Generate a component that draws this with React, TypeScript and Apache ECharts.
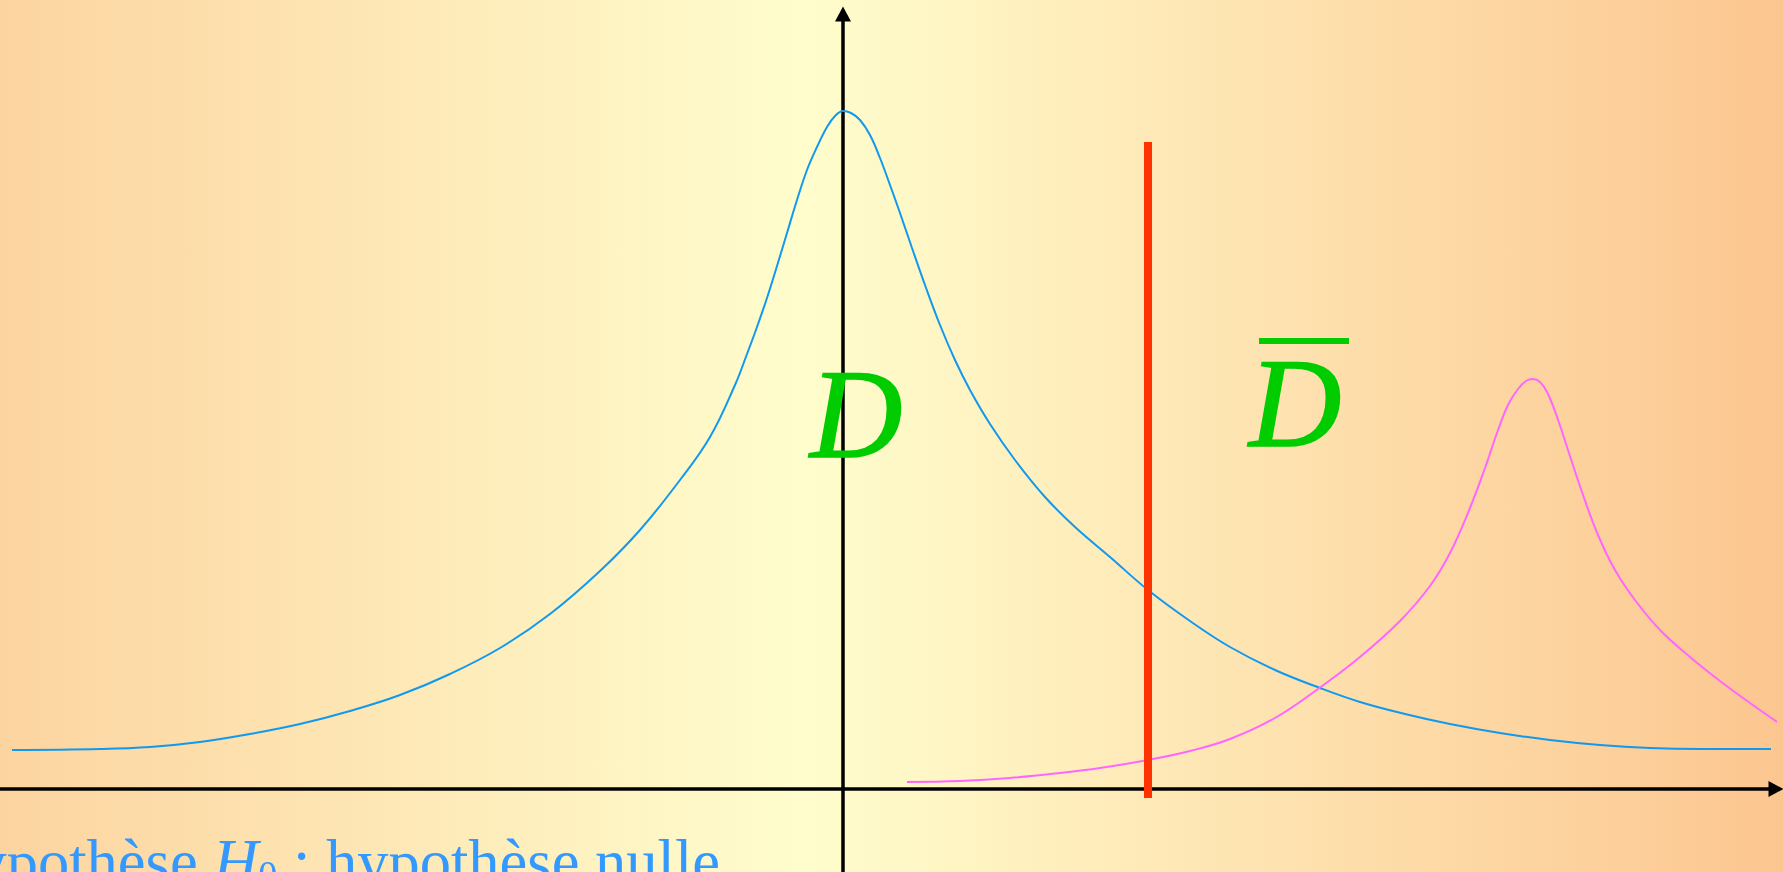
import React, { useEffect, useRef } from "react";
import * as echarts from "echarts";

// x: test statistic (1 unit = 100 px of the slide), y: density (arbitrary units)
const nullX = [-8.31, -7.43, -6.93, -6.43, -5.93, -5.43, -4.93, -4.43, -3.93, -3.43, -2.93, -2.43, -2.03, -1.63, -1.33, -1.08, -0.96, -0.86, -0.76, -0.66, -0.56, -0.46, -0.36, -0.26, -0.16, -0.08, 0, 0.08, 0.17, 0.27, 0.37, 0.47, 0.57, 0.69, 0.82, 0.97, 1.12, 1.27, 1.47, 1.72, 2.02, 2.32, 2.67, 3.05, 3.47, 3.87, 4.32, 4.77, 5.17, 5.62, 6.07, 6.57, 7.07, 7.57, 8.07, 8.57, 9.28];
const nullY = [0.39, 0.40, 0.42, 0.47, 0.55, 0.65, 0.78, 0.94, 1.15, 1.41, 1.75, 2.18, 2.59, 3.09, 3.52, 4.04, 4.35, 4.62, 4.91, 5.23, 5.56, 5.89, 6.19, 6.42, 6.62, 6.73, 6.78, 6.76, 6.69, 6.54, 6.31, 6.04, 5.76, 5.41, 5.04, 4.64, 4.29, 3.99, 3.65, 3.29, 2.92, 2.62, 2.32, 1.99, 1.68, 1.42, 1.19, 1.01, 0.87, 0.75, 0.65, 0.56, 0.49, 0.44, 0.41, 0.40, 0.40];

const altX = [0.64, 1.17, 1.67, 2.17, 2.57, 3.05, 3.47, 3.87, 4.32, 4.75, 5.17, 5.57, 5.87, 6.07, 6.27, 6.42, 6.54, 6.65, 6.75, 6.83, 6.90, 6.97, 7.04, 7.13, 7.25, 7.39, 7.55, 7.72, 7.92, 8.17, 8.47, 8.77, 9.07, 9.40];
const altY = [0.07, 0.08, 0.11, 0.16, 0.21, 0.29, 0.38, 0.50, 0.71, 1.00, 1.32, 1.68, 2.03, 2.36, 2.81, 3.21, 3.56, 3.84, 4.00, 4.08, 4.10, 4.07, 3.97, 3.75, 3.39, 2.97, 2.54, 2.19, 1.89, 1.59, 1.32, 1.08, 0.86, 0.63];

const thresholdX = [3.05, 3.05];
const thresholdY = [6.47, -0.09];

const xRange = [-8.43, 9.33];
const yRange = [-0.83, 7.75];

const labelAccept = "D";
const labelReject = "D";
const captionParts = ["Hypothèse ", "H", "0", " : hypothèse nulle"];

const zip = (xs: number[], ys: number[]) => xs.map((x, i) => [x, ys[i]]);

export default function App() {
  const ref = useRef<HTMLDivElement>(null);
  useEffect(() => {
    document.body.style.margin = "0";
    document.body.style.overflow = "hidden";
    const chart = echarts.init(ref.current!, null, { renderer: "svg" });
    const serif = "Liberation Serif";
    const axisLine = {
      show: true,
      onZero: true,
      symbol: ["none", "triangle"],
      symbolSize: [16, 15],
      lineStyle: { color: "#000", width: 3.5 },
    };
    const green = "#00CC00";
    const blue = "#3399FF";
    chart.setOption({
      animation: false,
      backgroundColor: "transparent",
      grid: { left: 0, right: 7, top: 14, bottom: 0, containLabel: false },
      xAxis: {
        type: "value",
        min: xRange[0],
        max: xRange[1],
        axisLine,
        axisTick: { show: false },
        axisLabel: { show: false },
        splitLine: { show: false },
      },
      yAxis: {
        type: "value",
        min: yRange[0],
        max: yRange[1],
        axisLine,
        axisTick: { show: false },
        axisLabel: { show: false },
        splitLine: { show: false },
      },
      graphic: [
        {
          type: "rect",
          z: -100,
          silent: true,
          shape: { x: 0, y: 0, width: 1783, height: 872 },
          style: {
            fill: {
              type: "linear",
              x: 0,
              y: 0,
              x2: 1,
              y2: 0,
              colorStops: [
                { offset: 0, color: "#FCD4A0" },
                { offset: 0.45, color: "#FFFDCD" },
                { offset: 1, color: "#FCC690" },
              ],
            },
          },
        },
        {
          type: "text",
          z: 10,
          style: {
            text: labelAccept,
            x: 810,
            y: 414,
            fill: green,
            stroke: green,
            lineWidth: 1.5,
            font: `italic 128px "${serif}"`,
            align: "left",
            verticalAlign: "middle",
            textAlign: "left",
            textVerticalAlign: "middle",
          },
        },
        {
          type: "text",
          z: 10,
          style: {
            text: labelReject,
            x: 1249,
            y: 403,
            fill: green,
            stroke: green,
            lineWidth: 1.5,
            font: `italic 128px "${serif}"`,
            align: "left",
            verticalAlign: "middle",
            textAlign: "left",
            textVerticalAlign: "middle",
          },
        },
        {
          type: "rect",
          z: 10,
          shape: { x: 1259, y: 338, width: 90, height: 6 },
          style: { fill: green },
        },
        {
          type: "text",
          z: 10,
          style: {
            text: `{n|${captionParts[0]}}{i|${captionParts[1]}}{s|${captionParts[2]}}{n|${captionParts[3]}}`,
            x: 720,
            y: 831,
            fill: blue,
            align: "right",
            verticalAlign: "top",
            textAlign: "right",
            textVerticalAlign: "top",
            rich: {
              n: { fontFamily: serif, fontSize: 62.5, lineHeight: 62, fill: blue, color: blue },
              i: { fontFamily: serif, fontStyle: "italic", fontSize: 62.5, lineHeight: 62, fill: blue, color: blue },
              s: { fontFamily: serif, fontSize: 38, lineHeight: 30, verticalAlign: "bottom", fill: blue, color: blue },
            },
          },
        },
      ],
      series: [
        {
          type: "line",
          data: zip(nullX, nullY),
          smooth: 0.4,
          showSymbol: false,
          symbol: "none",
          lineStyle: { color: "#1199EE", width: 2 },
          z: 3,
        },
        {
          type: "line",
          data: zip(altX, altY),
          smooth: 0.4,
          showSymbol: false,
          symbol: "none",
          clip: false,
          lineStyle: { color: "#FF66FF", width: 2 },
          z: 3,
        },
        {
          type: "line",
          data: zip(thresholdX, thresholdY),
          showSymbol: false,
          symbol: "none",
          clip: false,
          lineStyle: { color: "#FF3300", width: 8 },
          z: 4,
        },
      ],
    });
    return () => chart.dispose();
  }, []);
  return (
    <div
      ref={ref}
      style={{ position: "fixed", left: 0, top: 0, width: 1783, height: 872 }}
    />
  );
}
